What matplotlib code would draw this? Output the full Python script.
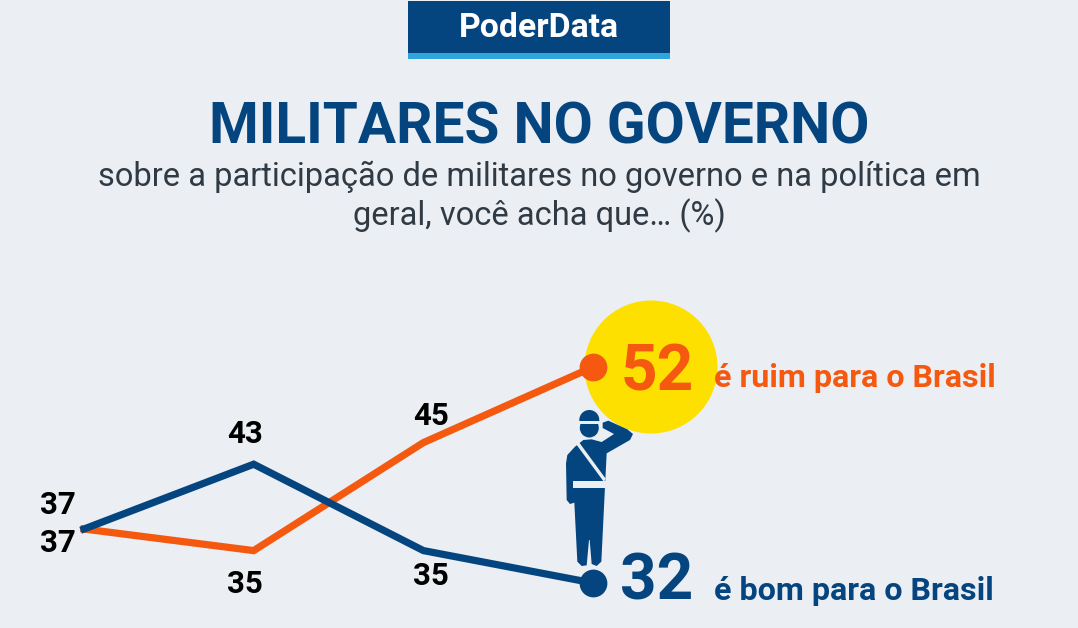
"""PoderData line chart: militares no governo."""

import matplotlib
matplotlib.use("Agg")
import matplotlib.pyplot as plt
from matplotlib.patches import Circle, Polygon, Rectangle

plt.rcParams["font.family"] = ["Roboto", "DejaVu Sans"]

BG = "#ebeef2"
NAVY = "#04457f"
ORANGE = "#f4590f"
YELLOW = "#fde000"
SKY = "#2fa5dc"
TEXT = "#2f3a44"

waves = [0, 1, 2, 3]
ruim = [37, 35, 45, 52]
bom = [37, 43, 35, 32]
ruim_labels = ["37", "35", "45"]
bom_labels = ["37", "43", "35"]

W, H = 1078, 628


def zoom_xy(points):
    return [(540 + x / 3, 290 + y / 3) for x, y in points]


def pixel_axes(fig, zorder):
    a = fig.add_axes([0, 0, 1, 1], zorder=zorder)
    a.set_xlim(0, W)
    a.set_ylim(H, 0)
    a.axis("off")
    return a


fig = plt.figure(figsize=(W / 100, H / 100), dpi=100, facecolor=BG)

# back layer: header, titles, circle, soldier
deco = pixel_axes(fig, 1)
deco.add_patch(Rectangle((408, 1), 262, 52, color=NAVY, lw=0))
deco.add_patch(Rectangle((408, 53), 262, 6, color=SKY, lw=0))
deco.text(539, 28, "PoderData", color="white", fontsize=24.3, fontweight="bold",
          ha="center", va="center")
deco.text(539, 128, "MILITARES NO GOVERNO", color=NAVY, fontsize=40.9,
          fontweight="bold", ha="center", va="center")
deco.text(539, 177, "sobre a participação de militares no governo e na política em",
          color=TEXT, fontsize=23.5, ha="center", va="center")
deco.text(539, 216, "geral, você acha que… (%)", color=TEXT, fontsize=23.5,
          ha="center", va="center")

deco.add_patch(Circle((651, 367), 66.5, color=YELLOW, lw=0))

body = [(105, 470), (82, 495), (78, 520), (80, 630), (90, 642), (103, 638), (112, 815),
        (125, 828), (140, 826), (147, 750), (149, 750), (155, 822), (170, 828), (184, 815),
        (195, 590), (200, 490), (270, 450), (279, 432), (262, 418), (205, 392),
        (188, 398), (188, 414), (222, 432), (185, 456), (155, 448), (130, 450)]
deco.add_patch(Polygon(zoom_xy(body), closed=True, color=NAVY, lw=0))
deco.add_patch(Circle((589.3, 420), 10, color=NAVY, lw=0))
deco.add_patch(Circle((589.3, 428), 9.5, color=NAVY, lw=0))
deco.add_patch(Rectangle((578, 421), 22, 3, color=BG, lw=0))
deco.add_patch(Polygon(zoom_xy([(108, 462), (118, 458), (197, 566), (192, 576)]),
                       closed=True, color=BG, lw=0))
deco.add_patch(Rectangle((572.5, 480.5), 33.5, 7, color=BG, lw=0))

# chart layer, scaled so the values land on the reference pixels
x0, x_step = 84, 169.7
y32, y_step = 583, 10.8
ax = fig.add_axes([0, 0, 1, 1], zorder=2)
ax.set_xlim(-x0 / x_step, (W - x0) / x_step)
ax.set_ylim(32 - (H - y32) / y_step, 32 + y32 / y_step)
ax.axis("off")

ax.plot(waves, ruim, color=ORANGE, lw=5.2, solid_joinstyle="miter")
ax.plot(waves, bom, color=NAVY, lw=5.2, solid_joinstyle="miter")
ax.plot(waves[-1], ruim[-1], "o", color=ORANGE, ms=20, mew=0)
ax.plot(waves[-1], bom[-1], "o", color=NAVY, ms=20, mew=0)

# front layer: value labels
front = pixel_axes(fig, 3)
lab = dict(color="black", fontsize=22.5, fontweight="bold", ha="center", va="center")
bom_pos = [(58, 505), (245, 434), (431, 576)]
ruim_pos = [(58, 543), (245, 584), (431, 416)]
for txt, (px, py) in zip(bom_labels, bom_pos):
    front.text(px, py, txt, **lab)
for txt, (px, py) in zip(ruim_labels, ruim_pos):
    front.text(px, py, txt, **lab)

front.text(657, 373, str(ruim[-1]), color=ORANGE, fontsize=46, fontweight="bold",
           ha="center", va="center")
front.text(657, 582, str(bom[-1]), color=NAVY, fontsize=46, fontweight="bold",
           ha="center", va="center")
front.text(714, 378, "é ruim para o Brasil", color=ORANGE, fontsize=23.2, fontweight="bold",
           ha="left", va="center")
front.text(714, 591, "é bom para o Brasil", color=NAVY, fontsize=23.2, fontweight="bold",
           ha="left", va="center")

fig.savefig("out.png", dpi=100, facecolor=BG)
